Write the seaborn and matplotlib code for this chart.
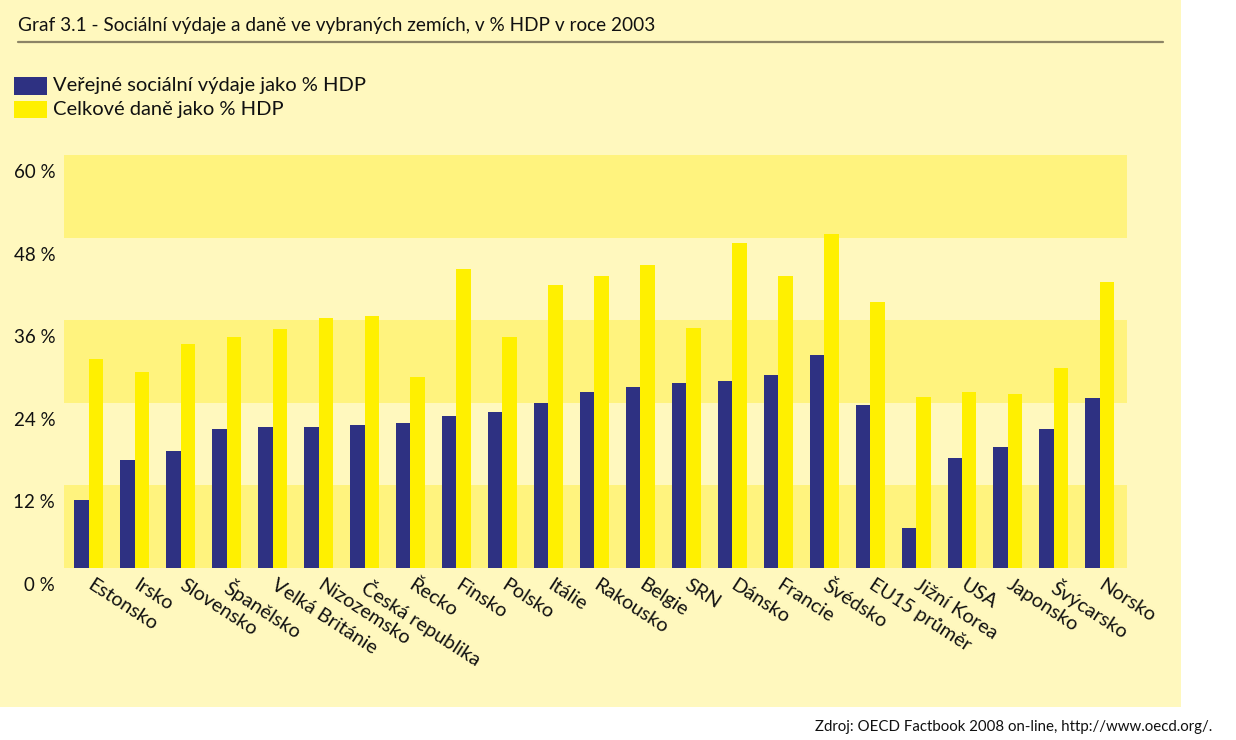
import matplotlib
matplotlib.use("Agg")
import matplotlib.pyplot as plt
import matplotlib.transforms as mtransforms
from matplotlib.patches import Rectangle
import seaborn as sns
import pandas as pd

countries = ["Estonsko", "Irsko", "Slovensko", "Španělsko", "Velká Británie",
             "Nizozemsko", "Česká republika", "Řecko", "Finsko", "Polsko",
             "Itálie", "Rakousko", "Belgie", "SRN", "Dánsko", "Francie",
             "Švédsko", "EU15 průměr", "Jižní Korea", "USA", "Japonsko",
             "Švýcarsko", "Norsko"]
social = [9.8, 15.7, 16.9, 20.1, 20.4, 20.4, 20.7, 21.0, 22.0, 22.6, 23.9,
          25.5, 26.2, 26.8, 27.1, 28.0, 30.9, 23.6, 5.7, 15.9, 17.5, 20.1, 24.6]
taxes = [30.3, 28.4, 32.5, 33.5, 34.7, 36.3, 36.6, 27.7, 43.4, 33.6, 41.1,
         42.4, 44.0, 34.8, 47.2, 42.4, 48.5, 38.6, 24.8, 25.5, 25.2, 29.0, 41.5]
series_names = ["Veřejné sociální výdaje jako % HDP", "Celkové daně jako % HDP"]
yticks = [0, 12, 24, 36, 48, 60]
ytick_labels = ["0 %", "12 %", "24 %", "36 %", "48 %", "60 %"]
title = "Graf 3.1 - Sociální výdaje a daně ve vybraných zemích, v % HDP v roce 2003"
source = "Zdroj: OECD Factbook 2008 on-line, http://www.oecd.org/."

BLUE = "#2E3182"
YELLOW = "#FFF000"
BG = "#FFF8BE"
BAND = "#FFF37E"

df = pd.DataFrame({
    "country": countries * 2,
    "value": social + taxes,
    "series": [series_names[0]] * len(countries) + [series_names[1]] * len(countries),
})

sns.set_theme(style="white")
plt.rcParams["font.family"] = ["Lato", "DejaVu Sans"]

W, H = 1236, 740
fig = plt.figure(figsize=(W / 100, H / 100), dpi=100, facecolor="white")

# yellow page background
fig.patches.append(Rectangle((0, 1 - 707 / H), 1181 / W, 707 / H,
                             transform=fig.transFigure, facecolor=BG,
                             edgecolor="none", zorder=-5))

ax_l, ax_r, ax_t, ax_b = 63.5, 1127, 155, 567.7
ax = fig.add_axes([ax_l / W, 1 - ax_b / H, (ax_r - ax_l) / W, (ax_b - ax_t) / H])
ax.set_zorder(1)
ax.set_facecolor(BG)
for lo in (0, 24, 48):
    ax.axhspan(lo, lo + 12, color=BAND, lw=0, zorder=0)

sns.barplot(data=df, x="country", y="value", hue="series",
            palette=[BLUE, YELLOW], saturation=1, width=0.63, gap=0,
            dodge=True, ax=ax, legend=False, zorder=2, linewidth=0)

ax.set_ylim(0, 60)
ax.set_xlim(-0.55, len(countries) - 1 + 0.59)
for s in ax.spines.values():
    s.set_visible(False)
ax.set_xlabel("")
ax.set_ylabel("")

ax.set_yticks(yticks)
ax.set_yticklabels(ytick_labels, fontsize=13.5, color="#111111")
ax.tick_params(axis="y", length=0, pad=6)
off = mtransforms.ScaledTranslation(0, -16 / 100, fig.dpi_scale_trans)
for lab in ax.get_yticklabels():
    lab.set_transform(lab.get_transform() + off)

ax.set_xticks(range(len(countries)))
ax.set_xticklabels(countries, rotation=-33, ha="left", va="top",
                   rotation_mode="anchor", fontsize=14.3, color="#111111")
ax.tick_params(axis="x", length=0, pad=6)
xoff = mtransforms.ScaledTranslation(5 / 100, 0, fig.dpi_scale_trans)
for lab in ax.get_xticklabels():
    lab.set_transform(lab.get_transform() + xoff)

# title and rule
fig.text(18 / W, 1 - 26 / H, title, fontsize=13.7, color="#111111",
         ha="left", va="center")
fig.add_artist(plt.Line2D([18 / W, 1163 / W], [1 - 42 / H, 1 - 42 / H],
                          color="#8C8466", lw=1.6, transform=fig.transFigure))

# legend
leg_items = [(series_names[0], BLUE, 77, 95), (series_names[1], YELLOW, 101, 118)]
for name, col, y0, y1 in leg_items:
    fig.patches.append(Rectangle((14 / W, 1 - y1 / H), 33 / W, (y1 - y0) / H,
                                 transform=fig.transFigure, facecolor=col,
                                 edgecolor="none", zorder=1))
    fig.text(53 / W, 1 - ((y0 + y1) / 2) / H, name, fontsize=14.5,
             color="#111111", ha="left", va="center")

fig.text(1212 / W, 1 - 727 / H, source, fontsize=10.8, color="#111111",
         ha="right", va="center")

fig.savefig("out.png", dpi=100, facecolor="white")
